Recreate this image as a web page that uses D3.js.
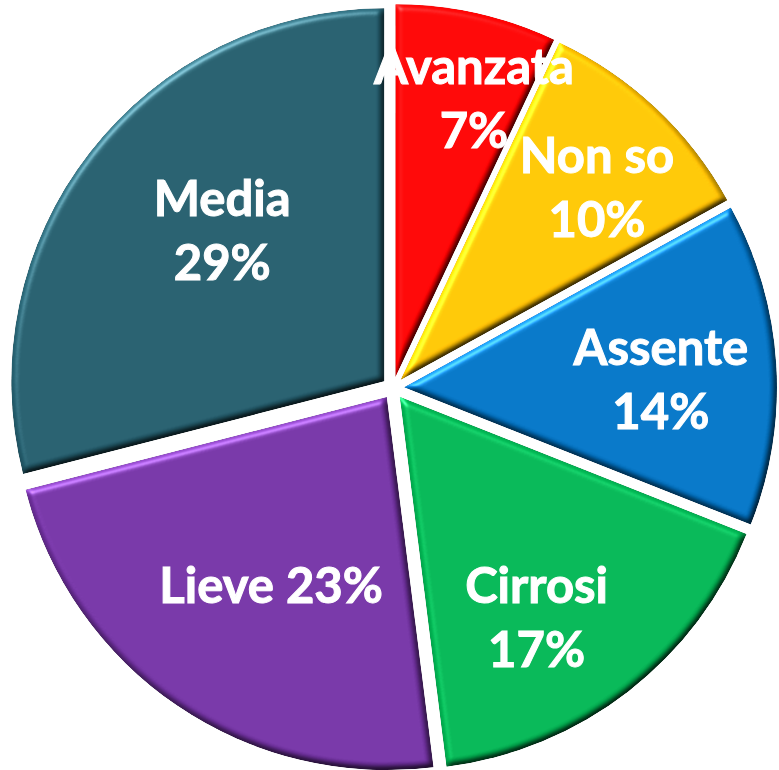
<html lang="it">
<head>
    <meta charset="UTF-8"/>
    <title>Fibrosi</title>
    <style>
        body { margin: 0; background: #fff; }
        svg { display: block; }
        text {
            font-family: Lato, "Open Sans", sans-serif;
            font-weight: bold;
            font-size: 49px;
            fill: #fff;
            stroke: #fff;
            stroke-width: 1;
        }
    </style>
</head>
<body>
<svg width="779" height="770"></svg>
<script src="https://d3js.org/d3.v7.min.js"></script>
<script>
    const categories = ["Avanzata", "Non so", "Assente", "Cirrosi", "Lieve", "Media"];
    const percents = [7, 10, 14, 17, 23, 29];
    const colors = ["#ff0000", "#ffc000", "#0070c0", "#00b050", "#7030a0", "#215968"];

    // layout only: where each label sits (distance from centre, angle nudge in degrees)
    const labelRadius = [301, 286, 268, 271, 232, 232];
    const labelShift = [3, 2.3, 1.7, 5.8, -2.5, 4.8];
    const singleLine = ["Lieve"];

    const cx = 393, cy = 388, radius = 373, explode = 11;
    const lineGap = 64, capH = 35;

    const svg = d3.select("svg");
    const defs = svg.append("defs");
    const f = defs.append("filter").attr("id", "bevel")
        .attr("color-interpolation-filters", "sRGB")
        .attr("x", "-5%").attr("y", "-5%").attr("width", "110%").attr("height", "110%");
    f.append("feGaussianBlur").attr("in", "SourceAlpha").attr("stdDeviation", 3).attr("result", "blur");
    f.append("feDiffuseLighting").attr("in", "blur").attr("surfaceScale", 4)
        .attr("diffuseConstant", 1).attr("lighting-color", "#fff").attr("result", "diff")
        .append("feDistantLight").attr("azimuth", 235).attr("elevation", 55);
    f.append("feComposite").attr("in", "SourceGraphic").attr("in2", "diff")
        .attr("operator", "arithmetic").attr("k1", 1.22).attr("k2", 0).attr("k3", 0).attr("k4", 0)
        .attr("result", "lit");
    f.append("feSpecularLighting").attr("in", "blur").attr("surfaceScale", 4)
        .attr("specularConstant", 0.7).attr("specularExponent", 22).attr("lighting-color", "#fff")
        .attr("result", "spec")
        .append("feDistantLight").attr("azimuth", 235).attr("elevation", 40);
    f.append("feComposite").attr("in", "spec").attr("in2", "SourceAlpha").attr("operator", "in").attr("result", "specIn");
    f.append("feComposite").attr("in", "lit").attr("in2", "specIn")
        .attr("operator", "arithmetic").attr("k1", 0).attr("k2", 1).attr("k3", 0.5).attr("k4", 0)
        .attr("result", "out");
    f.append("feComposite").attr("in", "out").attr("in2", "SourceAlpha").attr("operator", "in");

    const data = categories.map((c, i) => ({name: c, value: percents[i], color: colors[i], i}));
    const pie = d3.pie().sort(null).value(d => d.value);
    const arcs = pie(data);
    const arc = d3.arc().innerRadius(0).outerRadius(radius);

    const g = svg.append("g").attr("transform", `translate(${cx},${cy})`);

    g.selectAll("path")
        .data(arcs)
        .join("path")
        .attr("d", arc)
        .attr("fill", d => d.data.color)
        .attr("filter", "url(#bevel)")
        .attr("transform", d => {
            const a = (d.startAngle + d.endAngle) / 2;
            return `translate(${explode * Math.sin(a)},${-explode * Math.cos(a)})`;
        });

    const labels = g.selectAll("g.lbl")
        .data(arcs)
        .join("g")
        .attr("class", "lbl")
        .attr("transform", d => {
            const i = d.data.i;
            const a = (d.startAngle + d.endAngle) / 2 + labelShift[i] * Math.PI / 180;
            return `translate(${labelRadius[i] * Math.sin(a)},${-labelRadius[i] * Math.cos(a)})`;
        });

    labels.each(function (d) {
        const sel = d3.select(this);
        const pct = d.data.value + "%";
        if (singleLine.includes(d.data.name)) {
            sel.append("text").attr("text-anchor", "middle").attr("y", capH / 2)
                .text(d.data.name + " " + pct);
        } else {
            sel.append("text").attr("text-anchor", "middle").attr("y", -lineGap / 2 + capH / 2)
                .text(d.data.name);
            sel.append("text").attr("text-anchor", "middle").attr("y", lineGap / 2 + capH / 2)
                .text(pct);
        }
    });
</script>
</body>
</html>
